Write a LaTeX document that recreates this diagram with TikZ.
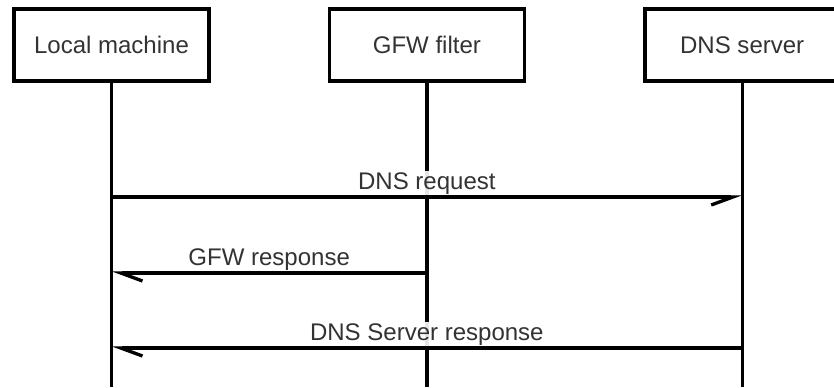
\documentclass[tikz,border=0pt]{standalone}
\usepackage{fontspec}
\setmainfont{Liberation Sans}
\usetikzlibrary{arrows.meta,positioning}
\definecolor{text_grey}{HTML}{333333}

\begin{document}
\begin{tikzpicture}[
        x=0.03cm, y=-0.03cm,
        labelfont/.style={font=\fontsize{20.5}{24}\selectfont, text=text_grey},
        actor/.style={rectangle, draw, line width=1.1mm, minimum width=5.85cm, minimum height=2.16cm, inner sep=0pt, labelfont},
        lifeline/.style={line width=1mm},
        message/.style={-{Straight Barb[harpoon, length=6.5mm, width=4.8mm]}, line width=1mm},
        rightmessage/.style={-{Straight Barb[harpoon, swap, length=6.5mm, width=4.8mm]}, line width=1mm},
        msglabel/.style={fill=white, fill opacity=0.9, text opacity=1, inner sep=1pt, labelfont},
    ]
        \useasboundingbox (0,0) rectangle (834,387);

        \node[actor] (local) at (111.5,45) {Local machine};
        \node[actor, right=3.5cm of local] (gfw) {GFW filter};
        \node[actor, right=3.5cm of gfw] (dns) {DNS server};

        \coordinate (bottom) at (0,387);
        \coordinate (request) at (0,197);
        \coordinate (gfwanswer) at (0,273);
        \coordinate (dnsanswer) at (0,348);

        \draw [lifeline] (local) -- (local |- bottom);
        \draw [lifeline] (gfw) -- (gfw |- bottom);
        \draw [lifeline] (dns) -- (dns |- bottom);

        \draw [rightmessage] (local |- request) -- node[msglabel, above] {DNS request} (dns |- request);
        \draw [message] (gfw |- gfwanswer) -- node[msglabel, above] {GFW response} (local |- gfwanswer);
        \draw [message] (dns |- dnsanswer) -- node[msglabel, above] {DNS Server response} (local |- dnsanswer);
\end{tikzpicture}
\end{document}
